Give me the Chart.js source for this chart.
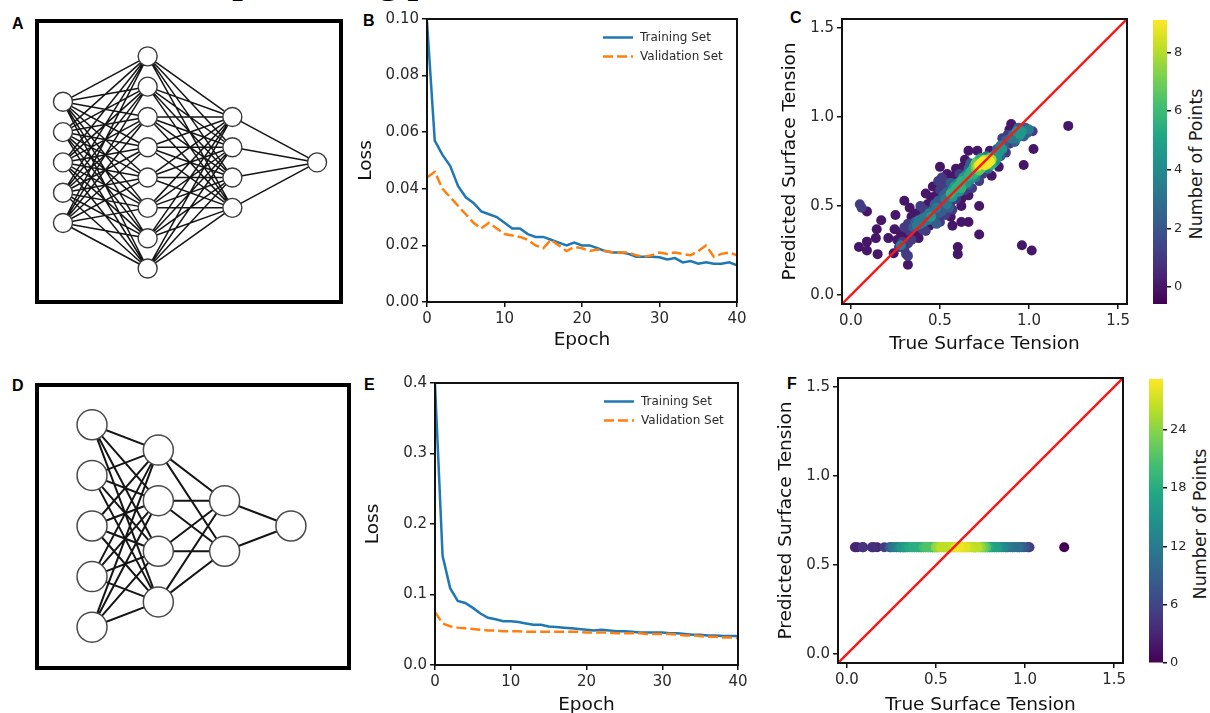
<!DOCTYPE html>
<html>
<head>
<meta charset="utf-8">
<script src="https://cdn.jsdelivr.net/npm/chart.js@4.4.1/dist/chart.umd.min.js"></script>
<style>
  html, body { margin: 0; padding: 0; background: #fff; }
  body { width: 1210px; height: 713px; overflow: hidden; position: relative; font-family: "DejaVu Sans", sans-serif; }
  canvas { position: absolute; }
  .panel-label { position: absolute; font: bold 16px "Liberation Sans", Arial, sans-serif; line-height: 16px; color: #000; }
  .net-box { position: absolute; border: 4px solid #000; box-sizing: border-box; }
  .cbar-title { position: absolute; font: 17.5px "DejaVu Sans", sans-serif; color: #1a1a1a; white-space: nowrap;
                transform: translate(-50%, -50%) rotate(-90deg); }
  .fig-title { position: absolute; font: bold 38px "Liberation Serif", "Times New Roman", serif; line-height: 38px;
               white-space: nowrap; color: #000; }
</style>
</head>
<body>
<div class="fig-title" style="left:171px; top:-39px;">Deep learning performance</div>

<div class="net-box" style="left:35px; top:19px; width:308px; height:285px;"></div>
<div class="net-box" style="left:35px; top:383px; width:316px; height:287px;"></div>

<div class="panel-label" style="left:12px; top:16px;">A</div>
<div class="panel-label" style="left:363px; top:13px;">B</div>
<div class="panel-label" style="left:790px; top:10px;">C</div>
<div class="panel-label" style="left:12px; top:378px;">D</div>
<div class="panel-label" style="left:364px; top:377px;">E</div>
<div class="panel-label" style="left:787px; top:376px;">F</div>

<div class="cbar-title" style="left:1196px; top:164px;">Number of Points</div>
<div class="cbar-title" style="left:1200px; top:524px;">Number of Points</div>

<script>
// ---------- data ----------
const networkALayers = [5, 8, 4, 1];
const networkDLayers = [5, 4, 2, 1];

const epochs = [0,1,2,3,4,5,6,7,8,9,10,11,12,13,14,15,16,17,18,19,20,
                21,22,23,24,25,26,27,28,29,30,31,32,33,34,35,36,37,38,39,40];

const deepTrainLoss = [0.099,0.057,0.052,0.048,0.041,0.037,0.035,0.032,0.031,0.030,0.028,
  0.026,0.026,0.024,0.023,0.023,0.022,0.021,0.020,0.021,0.020,
  0.020,0.019,0.018,0.0175,0.0175,0.017,0.016,0.016,0.016,0.0158,
  0.015,0.0155,0.014,0.0145,0.0135,0.014,0.0135,0.0135,0.014,0.013];
const deepValLoss = [0.044,0.046,0.040,0.037,0.034,0.031,0.028,0.026,0.028,0.026,0.024,
  0.0235,0.023,0.022,0.020,0.019,0.022,0.020,0.018,0.0195,0.019,
  0.018,0.0185,0.018,0.0175,0.0175,0.0175,0.0165,0.016,0.0165,0.0175,
  0.017,0.0175,0.017,0.0165,0.018,0.020,0.016,0.017,0.0175,0.0165];

const shallowTrainLoss = [0.398,0.155,0.109,0.091,0.088,0.081,0.073,0.067,0.065,0.062,0.062,
  0.061,0.059,0.057,0.057,0.0545,0.054,0.053,0.052,0.051,0.050,
  0.049,0.050,0.049,0.048,0.048,0.047,0.046,0.046,0.046,0.046,
  0.045,0.045,0.044,0.043,0.043,0.042,0.042,0.041,0.041,0.041];
const shallowValLoss = [0.075,0.059,0.055,0.053,0.052,0.051,0.050,0.049,0.049,0.048,0.048,
  0.048,0.047,0.047,0.047,0.047,0.047,0.047,0.047,0.047,0.046,
  0.046,0.046,0.046,0.045,0.045,0.045,0.045,0.044,0.044,0.044,
  0.044,0.043,0.042,0.042,0.041,0.040,0.040,0.039,0.039,0.038];

// test-set surface tensions (true) and deep-network predictions
const trueTension = [
  0.05,0.06,0.09,0.045,0.09,0.09,0.15,0.14,0.145,0.17,0.21,0.245,0.25,0.30,0.32,0.31,0.32,0.28,
  0.24,0.60,0.60,0.57,0.62,0.66,0.72,0.72,0.50,0.66,0.71,0.90,0.97,1.025,0.96,1.015,1.22,0.50,
  0.26,0.27,0.28,0.29,0.30,0.30,
  0.31,0.32,0.32,0.33,0.34,0.34,0.35,0.33,
  0.36,0.36,0.37,0.37,0.38,0.38,0.39,0.39,0.40,0.40,
  0.41,0.41,0.42,0.42,0.43,0.43,0.44,0.44,0.45,0.45,0.42,
  0.46,0.46,0.47,0.47,0.48,0.48,0.48,0.49,0.49,0.50,0.50,0.46,0.49,
  0.51,0.51,0.52,0.52,0.52,0.53,0.53,0.54,0.54,0.55,0.55,0.55,0.51,0.54,
  0.56,0.56,0.56,0.57,0.57,0.57,0.58,0.58,0.58,0.59,0.59,0.60,0.60,0.59,0.56,
  0.61,0.61,0.61,0.62,0.62,0.62,0.63,0.63,0.63,0.64,0.64,0.65,0.65,0.64,0.62,
  0.66,0.66,0.66,0.67,0.67,0.67,0.68,0.68,0.68,0.69,0.69,0.70,0.70,0.70,0.66,
  0.71,0.71,0.71,0.72,0.72,0.72,0.73,0.73,0.73,0.74,0.74,0.74,0.75,0.75,0.72,
  0.76,0.76,0.76,0.77,0.77,0.77,0.78,0.78,0.79,0.79,0.80,0.80,0.78,0.79,
  0.81,0.81,0.82,0.82,0.83,0.83,0.84,0.84,0.85,0.85,
  0.86,0.87,0.87,0.88,0.89,0.90,0.89,
  0.91,0.92,0.93,0.93,0.94,0.95,
  0.96,0.97,0.98,0.99,1.00,1.02];
const predictedTension = [
  0.51,0.49,0.47,0.27,0.25,0.30,0.23,0.32,0.37,0.42,0.32,0.37,0.45,0.53,0.17,0.23,0.22,0.28,
  0.235,0.27,0.23,0.39,0.41,0.41,0.50,0.34,0.72,0.81,0.81,0.96,0.73,0.82,0.28,0.25,0.95,0.41,
  0.31,0.27,0.35,0.30,0.38,0.26,
  0.33,0.40,0.29,0.36,0.44,0.31,0.38,0.49,
  0.41,0.35,0.39,0.46,0.42,0.32,0.40,0.50,0.43,0.37,
  0.41,0.48,0.44,0.36,0.51,0.42,0.46,0.39,0.55,0.44,0.57,
  0.48,0.42,0.51,0.45,0.56,0.40,0.49,0.53,0.46,0.59,0.50,0.61,0.64,
  0.53,0.47,0.56,0.50,0.61,0.54,0.45,0.58,0.51,0.55,0.63,0.49,0.66,0.68,
  0.57,0.52,0.63,0.59,0.55,0.48,0.61,0.57,0.67,0.60,0.54,0.63,0.58,0.71,0.44,
  0.62,0.58,0.68,0.64,0.60,0.54,0.66,0.62,0.72,0.65,0.59,0.68,0.63,0.76,0.50,
  0.67,0.71,0.62,0.69,0.65,0.74,0.70,0.66,0.60,0.72,0.68,0.71,0.74,0.66,0.56,
  0.72,0.69,0.75,0.73,0.70,0.76,0.74,0.71,0.77,0.75,0.72,0.68,0.76,0.73,0.64,
  0.75,0.73,0.78,0.76,0.74,0.71,0.77,0.75,0.76,0.73,0.78,0.74,0.81,0.67,
  0.79,0.75,0.82,0.77,0.80,0.72,0.84,0.78,0.82,0.88,
  0.84,0.87,0.80,0.90,0.85,0.88,0.93,
  0.90,0.86,0.92,0.88,0.94,0.90,
  0.92,0.89,0.94,0.91,0.93,0.92];
// the shallow network returns one value for every sample
const shallowPrediction = 0.6;

// tick labels
const epochTicks = [0, 10, 20, 30, 40];
const deepLossTicks = [0, 0.02, 0.04, 0.06, 0.08, 0.10];
const shallowLossTicks = [0, 0.1, 0.2, 0.3, 0.4];
const tensionTicks = [0, 0.5, 1.0, 1.5];
const deepCountTicks = [0, 2, 4, 6, 8];
const shallowCountTicks = [0, 6, 12, 18, 24];

// ---------- styling helpers ----------
const FONT = 'DejaVu Sans';
const INK = '#111';
const TICK_INK = '#2a2a2a';
const VIRIDIS = ['#440154','#482475','#414487','#355f8d','#2a788e','#21918c',
                 '#22a884','#44bf70','#7ad151','#bddf26','#fde725'];

Chart.defaults.layout.autoPadding = false;

function hexToRgb(h) { return [1, 3, 5].map(i => parseInt(h.slice(i, i + 2), 16)); }
function viridis(t) {
  t = Math.min(1, Math.max(0, t));
  const s = t * (VIRIDIS.length - 1), i = Math.min(VIRIDIS.length - 2, Math.floor(s)), f = s - i;
  const a = hexToRgb(VIRIDIS[i]), b = hexToRgb(VIRIDIS[i + 1]);
  return `rgb(${a.map((v, k) => Math.round(v + (b[k] - v) * f)).join(',')})`;
}

function addCanvas(box) {
  const c = document.createElement('canvas');
  c.width = box[2]; c.height = box[3];
  c.style.left = box[0] + 'px'; c.style.top = box[1] + 'px';
  document.body.appendChild(c);
  return c.getContext('2d');
}

// padding / axis sizes that put the plot area at a given place inside the canvas box
function fit(box, area) {
  return {
    padding: { left: 0, top: area[1] - box[1], right: box[0] + box[2] - area[2], bottom: 0 },
    yWidth: area[0] - box[0],
    xHeight: box[1] + box[3] - area[3]
  };
}

function axis(o) {
  return {
    type: 'linear', position: o.position, min: o.min, max: o.max,
    afterBuildTicks: s => { s.ticks = o.ticks.map(v => ({ value: v })); },
    afterFit: s => { if (o.width != null) s.width = o.width; if (o.height != null) s.height = o.height; },
    grid: { display: true, drawOnChartArea: false, drawTicks: true, tickLength: o.tickLength || 5,
            color: INK, lineWidth: 1.5 },
    border: { display: false },
    ticks: { color: TICK_INK, font: { family: FONT, size: o.size || 15 }, padding: 3,
             maxRotation: 0, autoSkip: false, callback: o.format },
    title: o.title ? { display: true, text: o.title, color: INK, font: { family: FONT, size: 18.5 },
                       padding: o.titlePad } : { display: false }
  };
}

const framePlugin = {
  id: 'frame',
  afterDatasetsDraw(chart) {
    const { ctx, chartArea: a } = chart;
    ctx.save();
    ctx.strokeStyle = INK; ctx.lineWidth = 2;
    ctx.strokeRect(a.left, a.top, a.right - a.left, a.bottom - a.top);
    ctx.restore();
  }
};

// legend drawn inside the top-right corner of the plot area
const cornerLegend = {
  id: 'cornerLegend',
  afterDatasetsDraw(chart) {
    const { ctx, chartArea: a } = chart;
    chart.data.datasets.forEach((ds, i) => {
      const y = a.top + 18.5 + i * 19;
      ctx.save();
      ctx.strokeStyle = ds.borderColor; ctx.lineWidth = ds.borderWidth;
      ctx.setLineDash(ds.borderDash || []);
      ctx.beginPath(); ctx.moveTo(a.right - 134, y); ctx.lineTo(a.right - 104, y); ctx.stroke();
      ctx.setLineDash([]);
      ctx.fillStyle = '#2a2a2a'; ctx.font = `12px "${FONT}"`; ctx.textBaseline = 'middle';
      ctx.fillText(ds.label, a.right - 97, y);
      ctx.restore();
    });
  }
};

const basePlugins = { legend: { display: false }, tooltip: { enabled: false } };

// ---------- network diagrams ----------
function networkChart(box, layers, view, st) {
  const nodes = [];
  layers.forEach((n, li) => { for (let i = 0; i < n; i++) nodes.push({ x: li, y: (n - 1) / 2 - i }); });
  const edges = [];
  for (let li = 0; li < layers.length - 1; li++) {
    const a = layers[li], b = layers[li + 1];
    for (let i = 0; i < a; i++) for (let j = 0; j < b; j++) {
      edges.push({ x: li, y: (a - 1) / 2 - i }, { x: li + 1, y: (b - 1) / 2 - j }, { x: li, y: null });
    }
  }
  new Chart(addCanvas(box), {
    type: 'scatter',
    data: { datasets: [
      { data: nodes, pointRadius: st.r, pointBackgroundColor: '#fff', pointBorderColor: st.nodeInk,
        pointBorderWidth: st.nodeWidth, order: 0 },
      { data: edges, showLine: true, spanGaps: false, pointRadius: 0, borderColor: st.edgeInk,
        borderWidth: st.edgeWidth, order: 1 }
    ] },
    options: {
      responsive: false, animation: false, devicePixelRatio: 1,
      layout: { padding: 0, autoPadding: false }, plugins: basePlugins,
      scales: {
        x: { type: 'linear', display: false, min: view.x[0], max: view.x[1] },
        y: { type: 'linear', display: false, min: view.y[0], max: view.y[1] }
      }
    }
  });
}

networkChart([39, 23, 300, 277], networkALayers, { x: [-0.283, 3.259], y: [-4.54, 4.60] },
  { r: 9.5, nodeInk: '#3a3a3a', nodeWidth: 1.4, edgeInk: '#151515', edgeWidth: 1.5 });
networkChart([39, 387, 308, 279], networkDLayers, { x: [-0.80, 3.846], y: [-2.767, 2.747] },
  { r: 15, nodeInk: '#4a4a4a', nodeWidth: 1.5, edgeInk: '#151515', edgeWidth: 2 });

// ---------- loss curves ----------
function lossChart(box, area, train, val, yTicks, yMax, fmt, titlePadLeft) {
  const f = fit(box, area);
  const toPts = arr => epochs.map((e, i) => ({ x: e, y: arr[i] }));
  new Chart(addCanvas(box), {
    type: 'line',
    data: { datasets: [
      { label: 'Training Set', data: toPts(train), borderColor: '#1f77b4', borderWidth: 2.5,
        pointRadius: 0, tension: 0, order: 1 },
      { label: 'Validation Set', data: toPts(val), borderColor: '#ff7f0e', borderWidth: 2.5,
        borderDash: [10, 4], pointRadius: 0, tension: 0, order: 0 }
    ] },
    options: {
      responsive: false, animation: false, devicePixelRatio: 1,
      layout: { padding: f.padding, autoPadding: false }, plugins: basePlugins,
      scales: {
        x: axis({ position: 'bottom', min: 0, max: 40, ticks: epochTicks, format: v => String(v),
                  height: f.xHeight, title: 'Epoch', titlePad: { top: 0, bottom: 8.9 } }),
        y: axis({ position: 'left', min: 0, max: yMax, ticks: yTicks, format: fmt,
                  width: f.yWidth, title: 'Loss', titlePad: { top: titlePadLeft, bottom: 0 } })
      }
    },
    plugins: [framePlugin, cornerLegend]
  });
}

lossChart([355, 0, 400, 360], [427, 19, 737, 302], deepTrainLoss, deepValLoss,
  deepLossTicks, 0.10, v => v.toFixed(2), 0.4);
lossChart([355, 365, 400, 360], [435, 383, 738, 665], shallowTrainLoss, shallowValLoss,
  shallowLossTicks, 0.4, v => v.toFixed(1), 7.4);

// ---------- parity plots coloured by local point count ----------
const axisRange = [-0.05, 1.55];

function localCounts(xs, ys, radius) {
  return xs.map((x, i) => xs.reduce((n, x2, j) =>
    n + (j !== i && Math.hypot(x2 - x, ys[j] - ys[i]) <= radius ? 1 : 0), 0));
}

function parityChart(box, area, xs, ys, radius, cmin, cmax, peak, titleLeft, titleBottom) {
  const f = fit(box, area);
  const counts = localCounts(xs, ys, radius);
  const top = Math.max(...counts);
  const pts = xs.map((x, i) => ({ x, y: ys[i], v: counts[i] / top * peak }))
                .sort((a, b) => a.v - b.v);
  new Chart(addCanvas(box), {
    type: 'scatter',
    data: { datasets: [
      { data: [{ x: axisRange[0], y: axisRange[0] }, { x: axisRange[1], y: axisRange[1] }],
        showLine: true, borderColor: '#f21c1c', borderWidth: 2.5, pointRadius: 0, order: 0 },
      { data: pts, pointRadius: 5, borderWidth: 0,
        pointBackgroundColor: pts.map(p => viridis((p.v - cmin) / (cmax - cmin))), order: 1 }
    ] },
    options: {
      responsive: false, animation: false, devicePixelRatio: 1,
      layout: { padding: f.padding, autoPadding: false }, plugins: basePlugins,
      scales: {
        x: axis({ position: 'bottom', min: axisRange[0], max: axisRange[1], ticks: tensionTicks,
                  format: v => v.toFixed(1), height: f.xHeight, title: 'True Surface Tension',
                  titlePad: { top: 0, bottom: titleBottom } }),
        y: axis({ position: 'left', min: axisRange[0], max: axisRange[1], ticks: tensionTicks,
                  format: v => v.toFixed(1), width: f.yWidth, title: 'Predicted Surface Tension',
                  titlePad: { top: titleLeft, bottom: 0 } })
      }
    },
    plugins: [framePlugin]
  });
}

function colorbar(box, area, cmin, cmax, ticks) {
  const f = fit(box, area);
  new Chart(addCanvas(box), {
    type: 'bar',
    data: { labels: ['count'], datasets: [{
      data: [[cmin, cmax]], barPercentage: 1, categoryPercentage: 1, borderWidth: 0,
      backgroundColor: c => {
        const a = c.chart.chartArea;
        if (!a) return VIRIDIS[5];
        const g = c.chart.ctx.createLinearGradient(0, a.bottom, 0, a.top);
        VIRIDIS.forEach((col, i) => g.addColorStop(i / (VIRIDIS.length - 1), col));
        return g;
      }
    }] },
    options: {
      responsive: false, animation: false, devicePixelRatio: 1,
      layout: { padding: { left: 0, top: f.padding.top, right: 0, bottom: f.xHeight }, autoPadding: false },
      plugins: basePlugins,
      scales: {
        x: { display: false },
        y: axis({ position: 'right', min: cmin, max: cmax, ticks, format: v => String(v),
                  width: box[2] - (area[2] - area[0]), size: 13, tickLength: 4 })
      }
    }
  });
}

parityChart([770, 0, 375, 360], [842, 19, 1127, 304], trueTension, predictedTension, 0.03,
  -0.58, 9.1, 9.0, 8.9, 4.9);
colorbar([1153, 0, 60, 340], [1153, 20, 1167, 304], -0.58, 9.1, deepCountTicks);

parityChart([765, 355, 380, 366], [838, 378, 1123, 663], trueTension,
  trueTension.map(() => shallowPrediction), 0.07, 0, 29.2, 28.5, 10.4, 4.9);
colorbar([1149, 350, 60, 340], [1149, 379, 1163, 663], 0, 29.2, shallowCountTicks);
</script>
</body>
</html>
